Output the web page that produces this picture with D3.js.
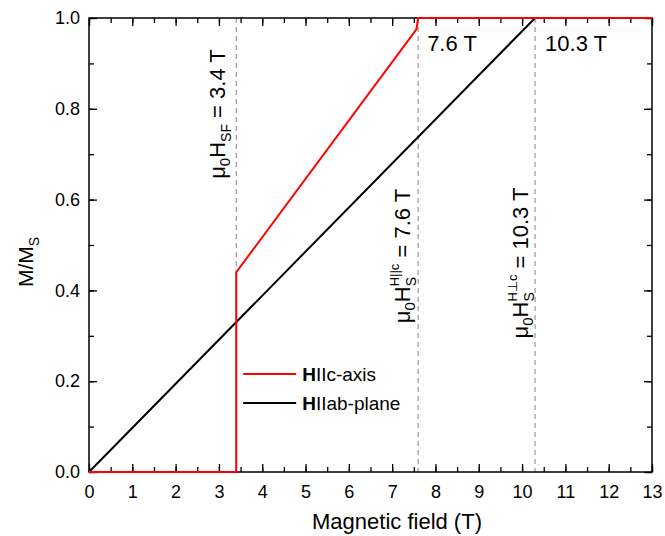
<!DOCTYPE html>
<html>
<head>
<meta charset="utf-8">
<script src="https://cdn.jsdelivr.net/npm/d3@7"></script>
<style>
  body { margin: 0; background: #fff; }
  svg { font-family: Arial, "Liberation Sans", sans-serif; }
</style>
</head>
<body>
<div id="chart"></div>
<script>
// data
const cAxisField = [0, 3.4, 3.4, 7.56, 7.6, 13];
const cAxisM = [0, 0, 0.44, 0.975, 1.0, 1.0];
const abPlaneField = [0, 10.3, 13];
const abPlaneM = [0, 1.0, 1.0];
const markerFields = [3.4, 7.6, 10.3];
const xTicks = [0, 1, 2, 3, 4, 5, 6, 7, 8, 9, 10, 11, 12, 13];
const yTicks = [0, 0.2, 0.4, 0.6, 0.8, 1.0];

const width = 665, height = 536;
const margin = { top: 18, right: 13, bottom: 64, left: 89 };
const iw = width - margin.left - margin.right;
const ih = height - margin.top - margin.bottom;

const svg = d3.select("#chart").append("svg")
    .attr("width", width)
    .attr("height", height);

const g = svg.append("g").attr("transform", `translate(${margin.left},${margin.top})`);

const x = d3.scaleLinear().domain([0, 13]).range([0, iw]);
const y = d3.scaleLinear().domain([0, 1]).range([ih, 0]);

// dashed markers
g.append("g").selectAll("line")
    .data(markerFields)
    .join("line")
    .attr("x1", d => x(d)).attr("x2", d => x(d))
    .attr("y1", 0).attr("y2", ih)
    .attr("stroke", "#999")
    .attr("stroke-width", 1.2)
    .attr("stroke-dasharray", "5,4");

// axes, ticks inward on all sides
const minorX = d3.range(0, 13.01, 0.5);
const minorY = d3.range(0, 1.001, 0.1);

function styleAxis(sel) {
    sel.select(".domain").remove();
    sel.selectAll("line").attr("stroke", "#000").attr("stroke-width", 1.3);
    sel.selectAll("text").attr("font-size", 18).attr("fill", "#000");
}

g.append("g").attr("transform", `translate(0,${ih})`)
    .call(d3.axisBottom(x).tickValues(minorX).tickSize(-5).tickFormat(""))
    .call(styleAxis);
g.append("g").attr("transform", `translate(0,${ih})`)
    .call(d3.axisBottom(x).tickValues(xTicks).tickSize(-8).tickPadding(13).tickFormat(d3.format("d")))
    .call(styleAxis);
g.append("g")
    .call(d3.axisTop(x).tickValues(minorX).tickSize(-5).tickFormat(""))
    .call(styleAxis);
g.append("g")
    .call(d3.axisTop(x).tickValues(xTicks).tickSize(-8).tickFormat(""))
    .call(styleAxis);
g.append("g")
    .call(d3.axisLeft(y).tickValues(minorY).tickSize(-5).tickFormat(""))
    .call(styleAxis);
g.append("g")
    .call(d3.axisLeft(y).tickValues(yTicks).tickSize(-8).tickPadding(9).tickFormat(d3.format(".1f")))
    .call(styleAxis);
g.append("g").attr("transform", `translate(${iw},0)`)
    .call(d3.axisRight(y).tickValues(minorY).tickSize(-5).tickFormat(""))
    .call(styleAxis);
g.append("g").attr("transform", `translate(${iw},0)`)
    .call(d3.axisRight(y).tickValues(yTicks).tickSize(-8).tickFormat(""))
    .call(styleAxis);

// frame
g.append("rect")
    .attr("width", iw).attr("height", ih)
    .attr("fill", "none")
    .attr("stroke", "#000")
    .attr("stroke-width", 1.5);

const line = d3.line().x(d => x(d[0])).y(d => y(d[1]));

g.append("path")
    .datum(d3.zip(abPlaneField, abPlaneM))
    .attr("d", line)
    .attr("fill", "none")
    .attr("stroke", "#000")
    .attr("stroke-width", 2);

g.append("path")
    .datum(d3.zip(cAxisField, cAxisM))
    .attr("d", line)
    .attr("fill", "none")
    .attr("stroke", "#f00")
    .attr("stroke-width", 2);

// marker annotations
g.append("text").attr("x", x(7.6) + 9).attr("y", 33)
    .attr("font-size", 22).text("7.6 T");
g.append("text").attr("x", x(10.3) + 10).attr("y", 33)
    .attr("font-size", 22).text("10.3 T");

// rotated label made of pieces placed one after another
function vLabel(field, offset, cy, sup, sub, value) {
    const lab = g.append("g")
        .attr("transform", `translate(${x(field) - offset},${cy}) rotate(-90)`);
    const inner = lab.append("g");
    let cx = 0;
    function piece(txt, size, dy) {
        const t = inner.append("text").attr("x", cx).attr("y", dy)
            .attr("font-size", size).text(txt);
        return t.node().getComputedTextLength();
    }
    cx += piece("\u03bc", 22, 0);
    cx += piece("0", 15, 5);
    cx += piece("H", 22, 0);
    let w = 0;
    if (sup) w = piece(sup, 13, -11);
    w = Math.max(w, piece(sub, 14, 6));
    cx += w;
    cx += piece("\u00a0=\u00a0" + value, 22, 0);
    inner.attr("transform", `translate(${-cx / 2},0)`);
}
vLabel(3.4, 11, 96, null, "SF", "3.4 T");
vLabel(7.6, 8, 238, "H||c", "S", "7.6 T");
vLabel(10.3, 7, 245, "H\u22a5c", "S", "10.3 T");

// legend
const legendItems = [
    { color: "#f00", rest: "IIc-axis" },
    { color: "#000", rest: "IIab-plane" }
];
const lg = g.append("g").attr("transform", `translate(${x(3.56)},${y(0.216)})`);
legendItems.forEach((d, i) => {
    const row = lg.append("g").attr("transform", `translate(0,${i * 29})`);
    row.append("line").attr("x1", 0).attr("x2", 53).attr("y1", 0).attr("y2", 0)
        .attr("stroke", d.color).attr("stroke-width", 2);
    const t = row.append("text").attr("x", 59).attr("y", 7).attr("font-size", 19);
    t.append("tspan").attr("font-weight", "bold").text("H");
    t.append("tspan").text(d.rest);
});

// axis titles
svg.append("text")
    .attr("x", 397).attr("y", 529)
    .attr("text-anchor", "middle")
    .attr("font-size", 22)
    .text("Magnetic field (T)");

const yl = svg.append("text")
    .attr("transform", `translate(33,262) rotate(-90)`)
    .attr("text-anchor", "middle")
    .attr("font-size", 21);
yl.append("tspan").text("M/M");
yl.append("tspan").attr("font-size", 14).attr("dy", 6).text("S");
</script>
</body>
</html>
